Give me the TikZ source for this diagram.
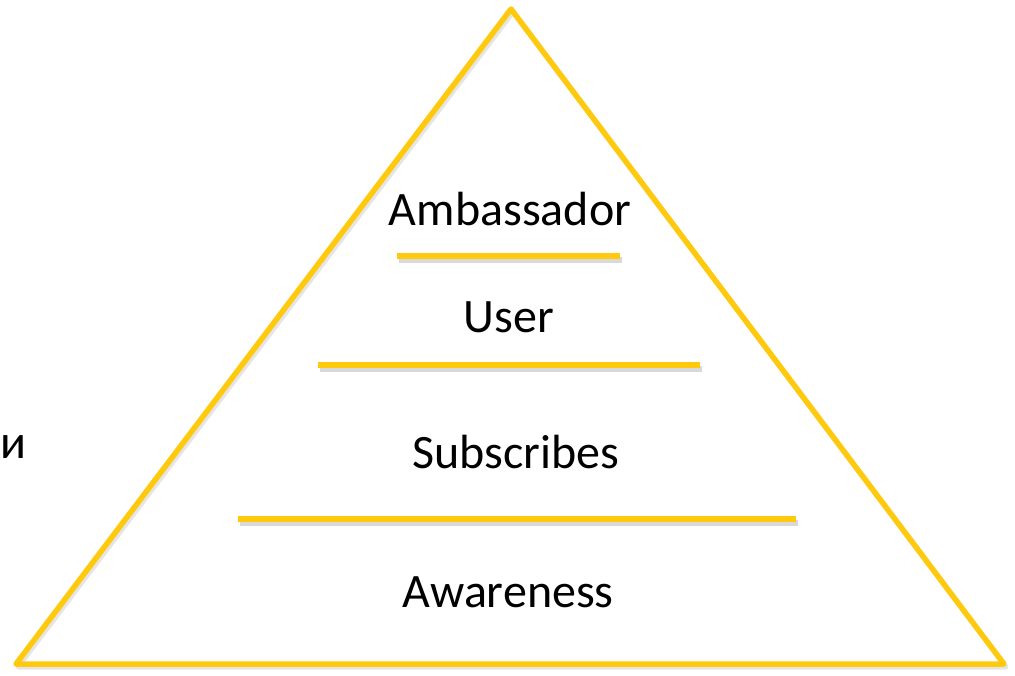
\documentclass[tikz,border=0pt]{standalone}
\usepackage{fontspec}
\setmainfont{Carlito}
\definecolor{gold}{HTML}{FFC90E}
\begin{document}
\begin{tikzpicture}[x=1pt,y=-1pt,
  lbl/.style={font=\fontsize{48}{56}\selectfont, text=black, inner sep=0pt, anchor=base},
  bar/.style={draw=gold, line width=6.5pt},
  shade/.style={draw=black!25, line width=6pt, opacity=0.6},
  tri/.style={draw=gold, line width=5.5pt, line join=round}]
\useasboundingbox (0,0) rectangle (1015,675);
\coordinate (apex) at (511,9);
\coordinate (bl) at (16,664);
\coordinate (br) at (1004,664);
\draw[draw=black!20, line width=5pt, opacity=0.5, line join=round] ([shift={(2,3)}]apex) -- ([shift={(2,3)}]br) -- ([shift={(2,3)}]bl) -- cycle;
\draw[tri] (apex) -- (br) -- (bl) -- cycle;
\coordinate (a1) at (397,256); \coordinate (a2) at (620,256);
\coordinate (b1) at (318,365); \coordinate (b2) at (700,365);
\coordinate (c1) at (238,519); \coordinate (c2) at (796,519);
\draw[shade] ([shift={(2,4)}]a1) -- ([shift={(2,4)}]a2);
\draw[shade] ([shift={(2,4)}]b1) -- ([shift={(2,4)}]b2);
\draw[shade] ([shift={(2,4)}]c1) -- ([shift={(2,4)}]c2);
\draw[bar] (a1) -- (a2);
\draw[bar] (b1) -- (b2);
\draw[bar] (c1) -- (c2);
\node[lbl] (amb) at (510,225) {Ambassador};
\node[lbl] (usr) at (509,332) {User};
\node[lbl] (sub) at (516,468) {Subscribes};
\node[lbl] (awa) at (508,607) {Awareness};
\node[lbl, anchor=base west] (ii) at (0,458) {и};
\end{tikzpicture}
\end{document}
